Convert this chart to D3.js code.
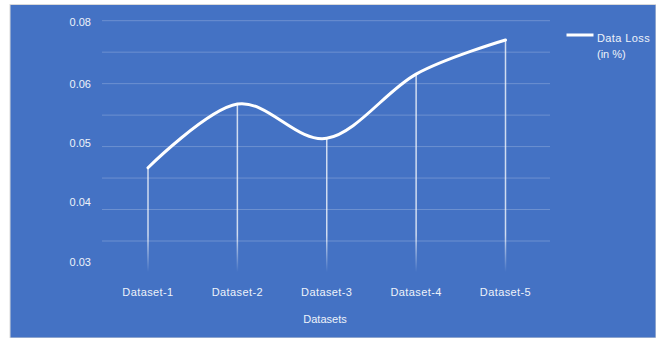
<!DOCTYPE html>
<html>
<head>
<meta charset="utf-8">
<script src="https://cdn.jsdelivr.net/npm/d3@7"></script>
<style>
  html, body { margin: 0; padding: 0; background: #fff; }
  svg text { font-family: "Liberation Sans", Arial, sans-serif; fill: #eef2fa; }
</style>
</head>
<body>
<div id="chart"></div>
<script>
// data
const categories = ['Dataset-1', 'Dataset-2', 'Dataset-3', 'Dataset-4', 'Dataset-5'];
const dataLoss = [0.0458, 0.0566, 0.0508, 0.0632, 0.0742];
const yTickLabels = [0.03, 0.04, 0.05, 0.06, 0.08];
const gridCount = 8;

const width = 656;
const height = 338;

const svg = d3.select('#chart').append('svg')
  .attr('width', width)
  .attr('height', height);

const defs = svg.append('defs');
const fade = defs.append('linearGradient')
  .attr('id', 'fade')
  .attr('gradientUnits', 'userSpaceOnUse')
  .attr('x1', 0).attr('x2', 0)
  .attr('y1', 235).attr('y2', 272);
fade.append('stop').attr('offset', 0).attr('stop-color', '#fff').attr('stop-opacity', 0.75);
fade.append('stop').attr('offset', 1).attr('stop-color', '#fff').attr('stop-opacity', 0);

// background panel
svg.append('rect')
  .attr('x', 10).attr('y', 4.5)
  .attr('width', width - 10).attr('height', height - 4.5)
  .attr('fill', '#4472c4')
  .attr('stroke', '#d9d9d9')
  .attr('stroke-width', 1);

// scales (axis labels are unevenly spaced in the source, so polylinear)
const x = d3.scalePoint().domain(categories).range([148, 505.5]);
const y = d3.scaleLinear().domain(yTickLabels).range([262, 202, 143, 84, 22]);
const g = d3.scaleLinear().domain([0, gridCount - 1]).range([241, 20.7]);

// gridlines
svg.append('g')
  .selectAll('line')
  .data(d3.range(gridCount))
  .enter()
  .append('line')
  .attr('x1', 102).attr('x2', 550)
  .attr('y1', d => g(d)).attr('y2', d => g(d))
  .attr('stroke', '#fff')
  .attr('stroke-opacity', 0.22)
  .attr('stroke-width', 1);

// y labels
svg.append('g')
  .selectAll('text')
  .data(yTickLabels)
  .enter()
  .append('text')
  .attr('x', 91)
  .attr('y', d => y(d) + 4)
  .attr('text-anchor', 'end')
  .attr('font-size', 11)
  .text(d => d.toFixed(2));

// drop lines
svg.append('g')
  .selectAll('line')
  .data(dataLoss)
  .enter()
  .append('line')
  .attr('x1', (d, i) => x(categories[i]))
  .attr('x2', (d, i) => x(categories[i]) + 0.01)
  .attr('y1', d => y(d))
  .attr('y2', 272)
  .attr('stroke', 'url(#fade)')
  .attr('stroke-width', 1.5);

// line
const line = d3.line()
  .x((d, i) => x(categories[i]))
  .y(d => y(d))
  .curve(d3.curveCardinal.tension(0));

svg.append('path')
  .datum(dataLoss)
  .attr('d', line)
  .attr('fill', 'none')
  .attr('stroke', '#fff')
  .attr('stroke-width', 3)
  .attr('stroke-linecap', 'round');

// x labels
svg.append('g')
  .selectAll('text')
  .data(categories)
  .enter()
  .append('text')
  .attr('x', d => x(d))
  .attr('y', 296)
  .attr('text-anchor', 'middle')
  .attr('font-size', 11)
  .attr('letter-spacing', 0.4)
  .text(d => d);

svg.append('text')
  .attr('x', 325)
  .attr('y', 323)
  .attr('text-anchor', 'middle')
  .attr('font-size', 11)
  .text('Datasets');

// legend
svg.append('line')
  .attr('x1', 566.5).attr('x2', 593.5)
  .attr('y1', 35).attr('y2', 35)
  .attr('stroke', '#fff')
  .attr('stroke-width', 3);

svg.append('text')
  .attr('x', 597).attr('y', 42)
  .attr('font-size', 11)
  .attr('letter-spacing', 0.4)
  .text('Data Loss');

svg.append('text')
  .attr('x', 597).attr('y', 58)
  .attr('font-size', 11)
  .text('(in %)');
</script>
</body>
</html>
